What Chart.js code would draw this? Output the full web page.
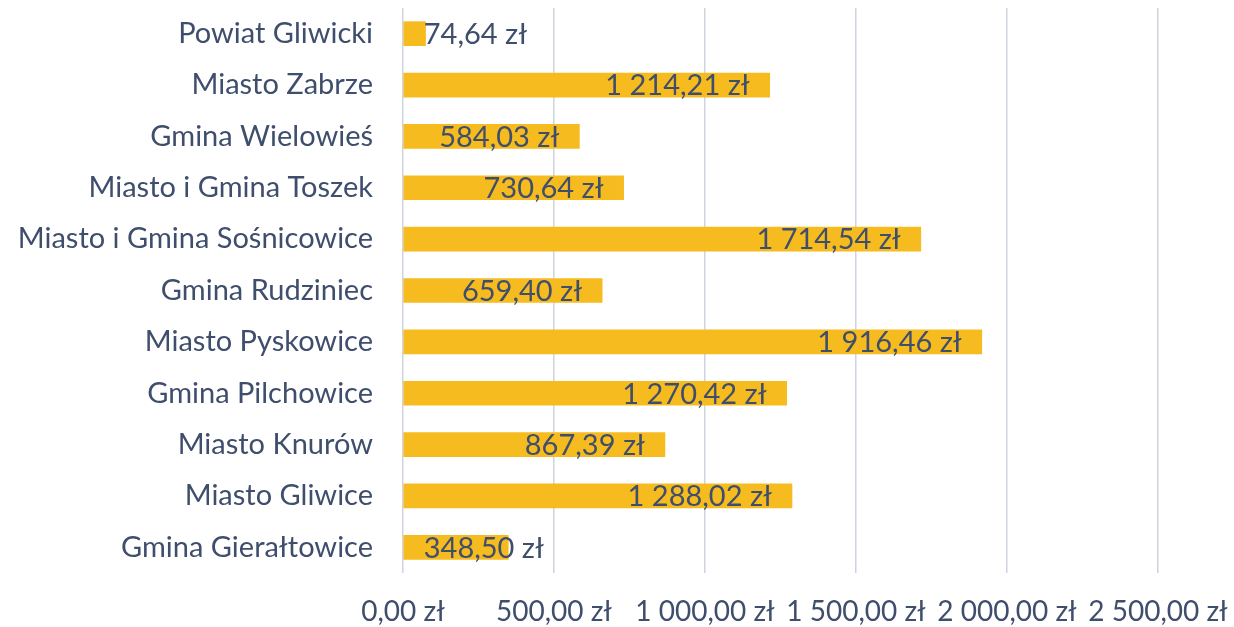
<!DOCTYPE html>
<html lang="pl">
<head>
    <meta charset="UTF-8">
    <script src="https://cdn.jsdelivr.net/npm/chart.js"></script>
    <title>Wydatki na mieszkańca</title>
    <style>
        html, body { margin: 0; padding: 0; background: #ffffff; }
        #wrap { width: 1234px; height: 627px; }
    </style>
</head>
<body>
<div id="wrap"><canvas id="myChart"></canvas></div>

<script>
    const categories = [
        'Powiat Gliwicki',
        'Miasto Zabrze',
        'Gmina Wielowieś',
        'Miasto i Gmina Toszek',
        'Miasto i Gmina Sośnicowice',
        'Gmina Rudziniec',
        'Miasto Pyskowice',
        'Gmina Pilchowice',
        'Miasto Knurów',
        'Miasto Gliwice',
        'Gmina Gierałtowice'
    ];
    const values = [74.64, 1214.21, 584.03, 730.64, 1714.54, 659.40, 1916.46, 1270.42, 867.39, 1288.02, 348.50];
    const xTicks = [0, 500, 1000, 1500, 2000, 2500];

    const textColor = '#3f4e6c';
    const fontFamily = 'Lato, "Open Sans", sans-serif';

    // 1214.21 -> "1 214,21 zł"
    function zl(v) {
        const parts = v.toFixed(2).split('.');
        const whole = parts[0].replace(/\B(?=(\d{3})+(?!\d))/g, ' ');
        return whole + ',' + parts[1] + ' zł';
    }

    // labels at the inner end of each bar, kept near the start when the bar is short
    const valueLabels = {
        id: 'valueLabels',
        afterDatasetsDraw: (chart) => {
            const {ctx} = chart;
            const meta = chart.getDatasetMeta(0);
            ctx.save();
            ctx.font = '29px ' + fontFamily;
            ctx.fillStyle = textColor;
            ctx.textBaseline = 'middle';
            ctx.textAlign = 'left';
            meta.data.forEach((bar, i) => {
                const txt = zl(values[i]);
                const w = ctx.measureText(txt).width;
                const left = Math.max(bar.base + 20, bar.x - 20 - w);
                ctx.fillText(txt, left, bar.y + 1);
            });
            ctx.restore();
        }
    };

    const ctx = document.getElementById('myChart').getContext('2d');

    new Chart(ctx, {
        type: 'bar',
        data: {
            labels: categories,
            datasets: [{
                data: values,
                backgroundColor: '#f6bb1e',
                borderWidth: 0,
                barThickness: 24
            }]
        },
        options: {
            indexAxis: 'y',
            responsive: true,
            maintainAspectRatio: false,
            animation: false,
            layout: {
                padding: { top: 8, right: 0, left: 0, bottom: 0 }
            },
            plugins: {
                legend: { display: false },
                tooltip: { enabled: false }
            },
            scales: {
                x: {
                    min: 0,
                    max: 2500,
                    afterBuildTicks: (axis) => {
                        axis.ticks = xTicks.map(v => ({ value: v }));
                    },
                    afterFit: (axis) => {
                        axis.height = 54;
                        axis.paddingLeft = 0;
                        axis.paddingRight = 76;
                    },
                    grid: {
                        color: '#cdd3df',
                        lineWidth: 1.5,
                        drawTicks: false
                    },
                    border: { display: false },
                    ticks: {
                        color: textColor,
                        padding: 22,
                        maxRotation: 0,
                        autoSkip: false,
                        font: { family: fontFamily, size: 28 },
                        callback: (v) => zl(v)
                    }
                },
                y: {
                    afterFit: (axis) => {
                        axis.width = 403;
                        axis.paddingTop = 0;
                        axis.paddingBottom = 0;
                    },
                    grid: { display: false },
                    border: { display: false },
                    ticks: {
                        color: textColor,
                        padding: 22,
                        autoSkip: false,
                        font: { family: fontFamily, size: 29 }
                    }
                }
            }
        },
        plugins: [valueLabels]
    });
</script>
</body>
</html>
